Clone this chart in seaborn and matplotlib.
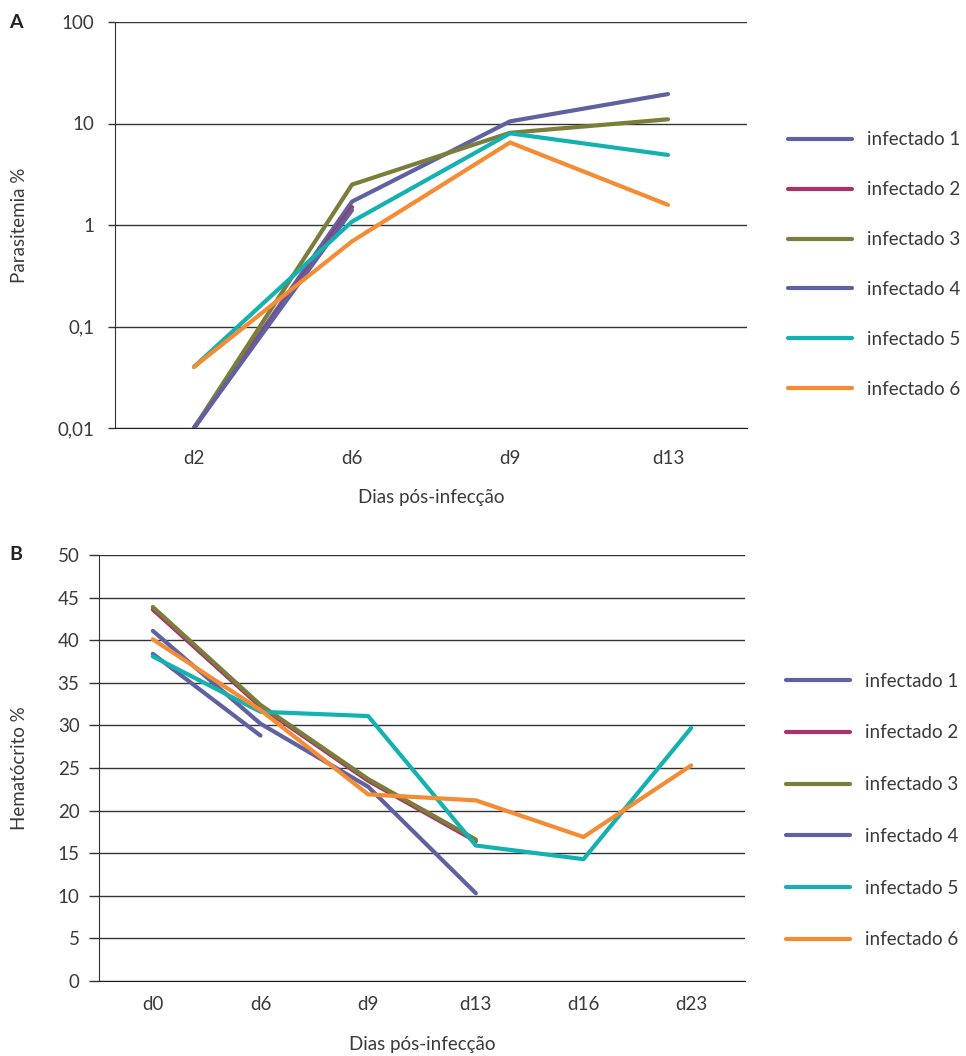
import numpy as np
import pandas as pd
import seaborn as sns
import matplotlib.pyplot as plt
from matplotlib.ticker import FixedLocator, NullLocator

# --- dados ---
infectados = ['infectado 1', 'infectado 2', 'infectado 3',
              'infectado 4', 'infectado 5', 'infectado 6']
cores = ['#5f62a0', '#a8336a', '#7a7e3a', '#5f62a0', '#14b1b1', '#f58b33']

dias_a = ['d2', 'd6', 'd9', 'd13']
par_inf1 = [0.01, 1.7, 10.5, 19.5]
par_inf2 = [0.01, 1.5, np.nan, np.nan]
par_inf3 = [0.01, 2.5, 8.1, 11.0]
par_inf4 = [0.01, 1.4, np.nan, np.nan]
par_inf5 = [0.04, 1.08, 8.0, 4.9]
par_inf6 = [0.04, 0.69, 6.5, 1.58]

dias_b = ['d0', 'd6', 'd9', 'd13', 'd16', 'd23']
hem_inf1 = [41.1, 30.2, 22.8, 10.3, np.nan, np.nan]
hem_inf2 = [43.6, 32.2, 23.5, 16.4, np.nan, np.nan]
hem_inf3 = [43.9, 32.4, 23.7, 16.6, np.nan, np.nan]
hem_inf4 = [38.4, 28.8, np.nan, np.nan, np.nan, np.nan]
hem_inf5 = [38.1, 31.6, 31.1, 15.9, 14.3, 29.7]
hem_inf6 = [40.1, 31.8, 21.9, 21.2, 16.9, 25.3]

ticks_a = [0.01, 0.1, 1, 10, 100]
ticks_a_lab = ['0,01', '0,1', '1', '10', '100']
ticks_b = list(range(0, 55, 5))


def long_df(dias, series):
    rows = []
    for nome, vals in zip(infectados, series):
        for i, v in enumerate(vals):
            if not np.isnan(v):
                rows.append({'pos': i, 'dia': dias[i], 'Sujeito': nome, 'valor': v})
    return pd.DataFrame(rows)


df_a = long_df(dias_a, [par_inf1, par_inf2, par_inf3, par_inf4, par_inf5, par_inf6])
df_b = long_df(dias_b, [hem_inf1, hem_inf2, hem_inf3, hem_inf4, hem_inf5, hem_inf6])

sns.set_style('white')
plt.rcParams['font.family'] = ['Lato', 'DejaVu Sans']
txt = '#3a3a3a'
fs = 13.5

fig = plt.figure(figsize=(9.66, 10.56), dpi=100)
ax_a = fig.add_axes([115 / 966, 1 - 428 / 1056, 632 / 966, 406 / 1056])
ax_b = fig.add_axes([99 / 966, 1 - 981 / 1056, 646 / 966, 426 / 1056])

paleta = dict(zip(infectados, cores))

for ax, df, dias in [(ax_a, df_a, dias_a), (ax_b, df_b, dias_b)]:
    sns.lineplot(data=df, x='pos', y='valor', hue='Sujeito', hue_order=infectados,
                 palette=paleta, estimator=None, errorbar=None, lw=3, ax=ax)
    n = len(dias)
    ax.set_xlim(-0.5, n - 0.5)
    ax.set_xticks(range(n))
    ax.set_xticklabels(dias, fontsize=fs, color=txt)
    ax.xaxis.set_minor_locator(FixedLocator(np.arange(-0.5, n, 1.0)))
    ax.tick_params(axis='x', which='major', length=0, pad=16)
    ax.tick_params(axis='x', which='minor', length=6, width=1, color='#222222', direction='out')
    ax.grid(axis='y', color='#333333', lw=1)
    ax.grid(axis='x', visible=False)
    for s in ['top', 'right']:
        ax.spines[s].set_visible(False)
    ax.spines['left'].set_color('#333333')
    ax.spines['bottom'].set_color('#222222')
    ax.set_xlabel('Dias pós-infecção', fontsize=fs, color=txt)

# painel A
ax_a.set_yscale('log')
ax_a.set_ylim(0.01, 100)
ax_a.yaxis.set_major_locator(FixedLocator(ticks_a))
ax_a.yaxis.set_minor_locator(NullLocator())
ax_a.set_yticklabels(ticks_a_lab, fontsize=fs, color=txt)
ax_a.tick_params(axis='y', which='major', left=True, length=5, width=1, color='#333333', pad=10)
ax_a.set_ylabel('Parasitemia %', fontsize=fs, color=txt)
ax_a.yaxis.set_label_coords(-0.138, 0.5)
ax_a.xaxis.set_label_coords(0.5, -0.150)

# painel B
ax_b.set_ylim(0, 50)
ax_b.set_yticks(ticks_b)
ax_b.set_yticklabels([str(t) for t in ticks_b], fontsize=fs, color=txt)
ax_b.tick_params(axis='y', which='major', left=True, length=7, width=1, color='#333333', pad=7)
ax_b.tick_params(axis='x', which='major', pad=11)
ax_b.tick_params(axis='x', which='minor', length=8)
ax_b.set_ylabel('Hematócrito %', fontsize=fs, color=txt)
ax_b.yaxis.set_label_coords(-0.110, 0.5)
ax_b.xaxis.set_label_coords(0.5, -0.128)

sns.move_legend(ax_a, 'center left', bbox_to_anchor=(788 / 966, 1 - 264.5 / 1056),
                bbox_transform=fig.transFigure, frameon=False, title=None,
                fontsize=fs, handlelength=3.4, handletextpad=0.8, labelspacing=1.75,
                borderpad=0, borderaxespad=0, labelcolor=txt)
sns.move_legend(ax_b, 'center left', bbox_to_anchor=(786 / 966, 1 - 810.5 / 1056),
                bbox_transform=fig.transFigure, frameon=False, title=None,
                fontsize=fs, handlelength=3.4, handletextpad=0.8, labelspacing=1.85,
                borderpad=0, borderaxespad=0, labelcolor=txt)

fig.text(9 / 966, 1 - 22 / 1056, 'A', fontsize=14, fontweight='bold', color='#222222', va='center')
fig.text(9 / 966, 1 - 555 / 1056, 'B', fontsize=14, fontweight='bold', color='#222222', va='center')

fig.savefig('out.png', dpi=100)
